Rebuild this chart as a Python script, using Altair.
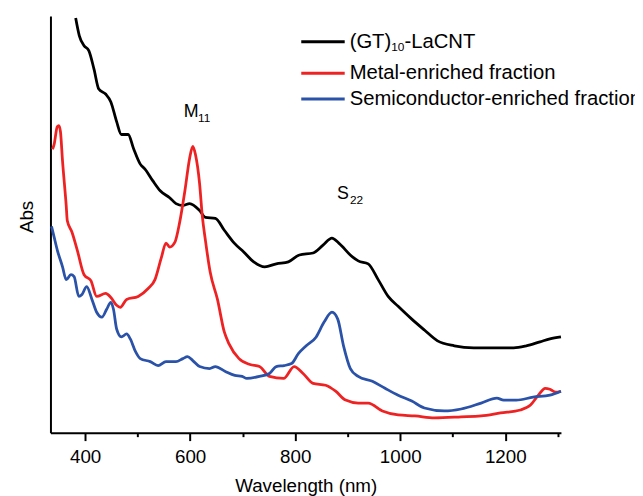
import altair as alt
import pandas as pd

# ---- data (arbitrary absorbance units) ----
black_wl = [382, 389, 398, 407, 417, 426, 439, 449, 460, 469, 482, 492, 505, 514, 529, 543, 561, 573,
            586, 599, 618, 629, 648, 665, 684, 702, 721, 742, 764, 787, 808, 834, 853, 870, 883, 909,
            920, 939, 958, 977, 996, 1022, 1046, 1071, 1103, 1140, 1178, 1216, 1240, 1266, 1285, 1306]
black_abs = [4.20, 4.02, 3.92, 3.87, 3.68, 3.48, 3.43, 3.35, 3.15, 3.02, 3.02, 2.88, 2.72, 2.67, 2.55,
             2.45, 2.38, 2.32, 2.30, 2.32, 2.25, 2.18, 2.17, 2.05, 1.92, 1.83, 1.73, 1.68, 1.71, 1.73,
             1.80, 1.82, 1.90, 1.97, 1.92, 1.78, 1.74, 1.71, 1.55, 1.38, 1.28, 1.15, 1.04, 0.93, 0.88,
             0.86, 0.86, 0.86, 0.88, 0.92, 0.95, 0.97]

red_wl = [338, 341, 347, 350, 353, 357, 364, 366, 375, 385, 398, 411, 422, 439, 449, 460, 467, 479,
          501, 520, 533, 545, 554, 561, 571, 580, 590, 599, 605, 610, 618, 623, 629, 638, 652, 665,
          674, 693, 714, 732, 751, 778, 798, 815, 834, 858, 877, 896, 920, 939, 966, 996, 1028, 1065,
          1116, 1154, 1191, 1229, 1248, 1263, 1276, 1285, 1296, 1306]
red_abs = [2.87, 2.92, 3.10, 3.11, 3.05, 2.75, 2.30, 2.15, 2.03, 1.85, 1.60, 1.54, 1.38, 1.41, 1.37,
           1.29, 1.27, 1.35, 1.38, 1.46, 1.55, 1.77, 1.92, 1.88, 1.93, 2.13, 2.45, 2.78, 2.90, 2.82,
           2.52, 2.20, 1.95, 1.63, 1.35, 1.02, 0.90, 0.75, 0.69, 0.67, 0.57, 0.55, 0.67, 0.60, 0.50,
           0.48, 0.42, 0.33, 0.30, 0.30, 0.22, 0.18, 0.17, 0.15, 0.16, 0.17, 0.20, 0.23, 0.28, 0.38,
           0.45, 0.44, 0.41, 0.42]

blue_wl = [336, 341, 347, 357, 364, 373, 379, 388, 394, 403, 413, 422, 432, 441, 449, 454, 460, 469,
           479, 486, 496, 505, 524, 539, 554, 573, 586, 595, 605, 618, 637, 648, 667, 685, 699, 708,
           732, 751, 764, 779, 793, 806, 821, 840, 855, 870, 881, 892, 905, 920, 947, 971, 996, 1022,
           1046, 1084, 1116, 1154, 1184, 1197, 1221, 1253, 1285, 1306]
blue_abs = [2.09, 1.98, 1.85, 1.68, 1.55, 1.60, 1.58, 1.38, 1.40, 1.48, 1.35, 1.22, 1.17, 1.25, 1.32,
            1.25, 1.05, 0.97, 1.00, 0.95, 0.82, 0.75, 0.72, 0.68, 0.72, 0.72, 0.75, 0.77, 0.73, 0.67,
            0.65, 0.67, 0.62, 0.58, 0.57, 0.55, 0.57, 0.60, 0.67, 0.68, 0.70, 0.80, 0.88, 0.97, 1.12,
            1.22, 1.15, 0.88, 0.65, 0.57, 0.52, 0.45, 0.38, 0.32, 0.25, 0.22, 0.24, 0.30, 0.35, 0.33,
            0.33, 0.36, 0.38, 0.42]

series_names = ["(GT)10-LaCNT", "Metal-enriched fraction", "Semiconductor-enriched fraction"]
series_colors = ["#000000", "#ee2222", "#2a52a8"]
# legend label pieces: (text, is_subscript)
legend_pieces = [[("(GT)", False), ("10", True), ("-LaCNT", False)],
                 [("Metal-enriched fraction", False)],
                 [("Semiconductor-enriched fraction", False)]]

all_ticks = [400, 500, 600, 700, 800, 900, 1000, 1100, 1200, 1300]

ann_wl = [602, 891]
ann_abs = [3.25, 2.42]
ann_main = ["M", "S"]
ann_sub = ["11", "22"]

# ---- build tables ----
rows = []
for name, wls, abss in zip(series_names, [black_wl, red_wl, blue_wl], [black_abs, red_abs, blue_abs]):
    for w, a in zip(wls, abss):
        rows.append({"series": name, "wl": w, "abs": a})
df = pd.DataFrame(rows)
ann = pd.DataFrame({"wl": ann_wl, "abs": ann_abs, "main": ann_main, "sub": ann_sub})

FONT = "Liberation Sans"
x_scale = alt.Scale(domain=[334, 1306], nice=False, zero=False)
y_scale = alt.Scale(domain=[0, 4.22], nice=False, zero=False)

x_axis = alt.Axis(values=all_ticks, format="d", title="Wavelength (nm)", grid=False,
                  domainColor="black", domainWidth=2, tickColor="black", tickWidth=2,
                  tickSize={"condition": {"test": "datum.value % 200 == 0", "value": 8}, "value": 4},
                  labelExpr="datum.value % 200 == 0 ? datum.label : ''",
                  labelFontSize=19, labelFont=FONT, labelColor="black", labelPadding=7,
                  titleFont=FONT, titleFontSize=19, titleFontWeight="normal", titleColor="black",
                  titlePadding=11, labelFlush=False)
y_axis = alt.Axis(title="Abs", labels=False, ticks=False, grid=False, domainColor="black",
                  domainWidth=2, titleFont=FONT, titleFontSize=19, titleFontWeight="normal",
                  titleColor="black", titlePadding=14, titleY=203)

lines = alt.Chart(df).mark_line(strokeWidth=2.8, interpolate="monotone").encode(
    x=alt.X("wl:Q", scale=x_scale, axis=x_axis),
    y=alt.Y("abs:Q", scale=y_scale, axis=y_axis),
    color=alt.Color("series:N", scale=alt.Scale(domain=series_names, range=series_colors),
                    legend=None),
)

main_txt = alt.Chart(ann).mark_text(fontSize=18, font=FONT, color="black", align="center",
                                    baseline="middle").encode(
    x=alt.X("wl:Q", scale=x_scale), y=alt.Y("abs:Q", scale=y_scale), text="main:N")
sub_txt = alt.Chart(ann).mark_text(fontSize=12, font=FONT, color="black", align="left",
                                   baseline="middle", dx=7, dy=6).encode(
    x=alt.X("wl:Q", scale=x_scale), y=alt.Y("abs:Q", scale=y_scale), text="sub:N")

# ---- manual legend (placed in the view's pixel frame) ----
LEG_X0, LEG_X1, LEG_TX = 254, 298, 303
LEG_ROWS = [26, 58, 84]
MAIN_FS, SUB_FS = 20.5, 12
legend_layers = []
for i, (name, color, pieces) in enumerate(zip(series_names, series_colors, legend_pieces)):
    one = pd.DataFrame({"series": [name]})
    legend_layers.append(
        alt.Chart(one).mark_rule(color=color, strokeWidth=3).encode(
            x=alt.value(LEG_X0), x2=alt.value(LEG_X1), y=alt.value(LEG_ROWS[i])))
    cursor = LEG_TX
    for text, is_sub in pieces:
        fs = SUB_FS if is_sub else MAIN_FS
        legend_layers.append(
            alt.Chart(pd.DataFrame({"t": [text]})).mark_text(
                font=FONT, fontSize=fs, color="black", align="left", baseline="middle",
                dy=5 if is_sub else 0).encode(
                x=alt.value(cursor), y=alt.value(LEG_ROWS[i]), text="t:N"))
        # advance by approximate text width (Arial metrics)
        widths = {"(GT)": 2.055, "10": 1.112}
        cursor += widths.get(text, 0) * fs

chart = alt.layer(lines, main_txt, sub_txt, *legend_layers).properties(
    width=517, height=422,
    autosize=alt.AutoSizeParams(type="none"),
    padding={"left": 43, "top": 5, "right": 75, "bottom": 61},
).configure_view(stroke=None)

chart.save("out.html", embed_options={"renderer": "svg", "actions": False})
